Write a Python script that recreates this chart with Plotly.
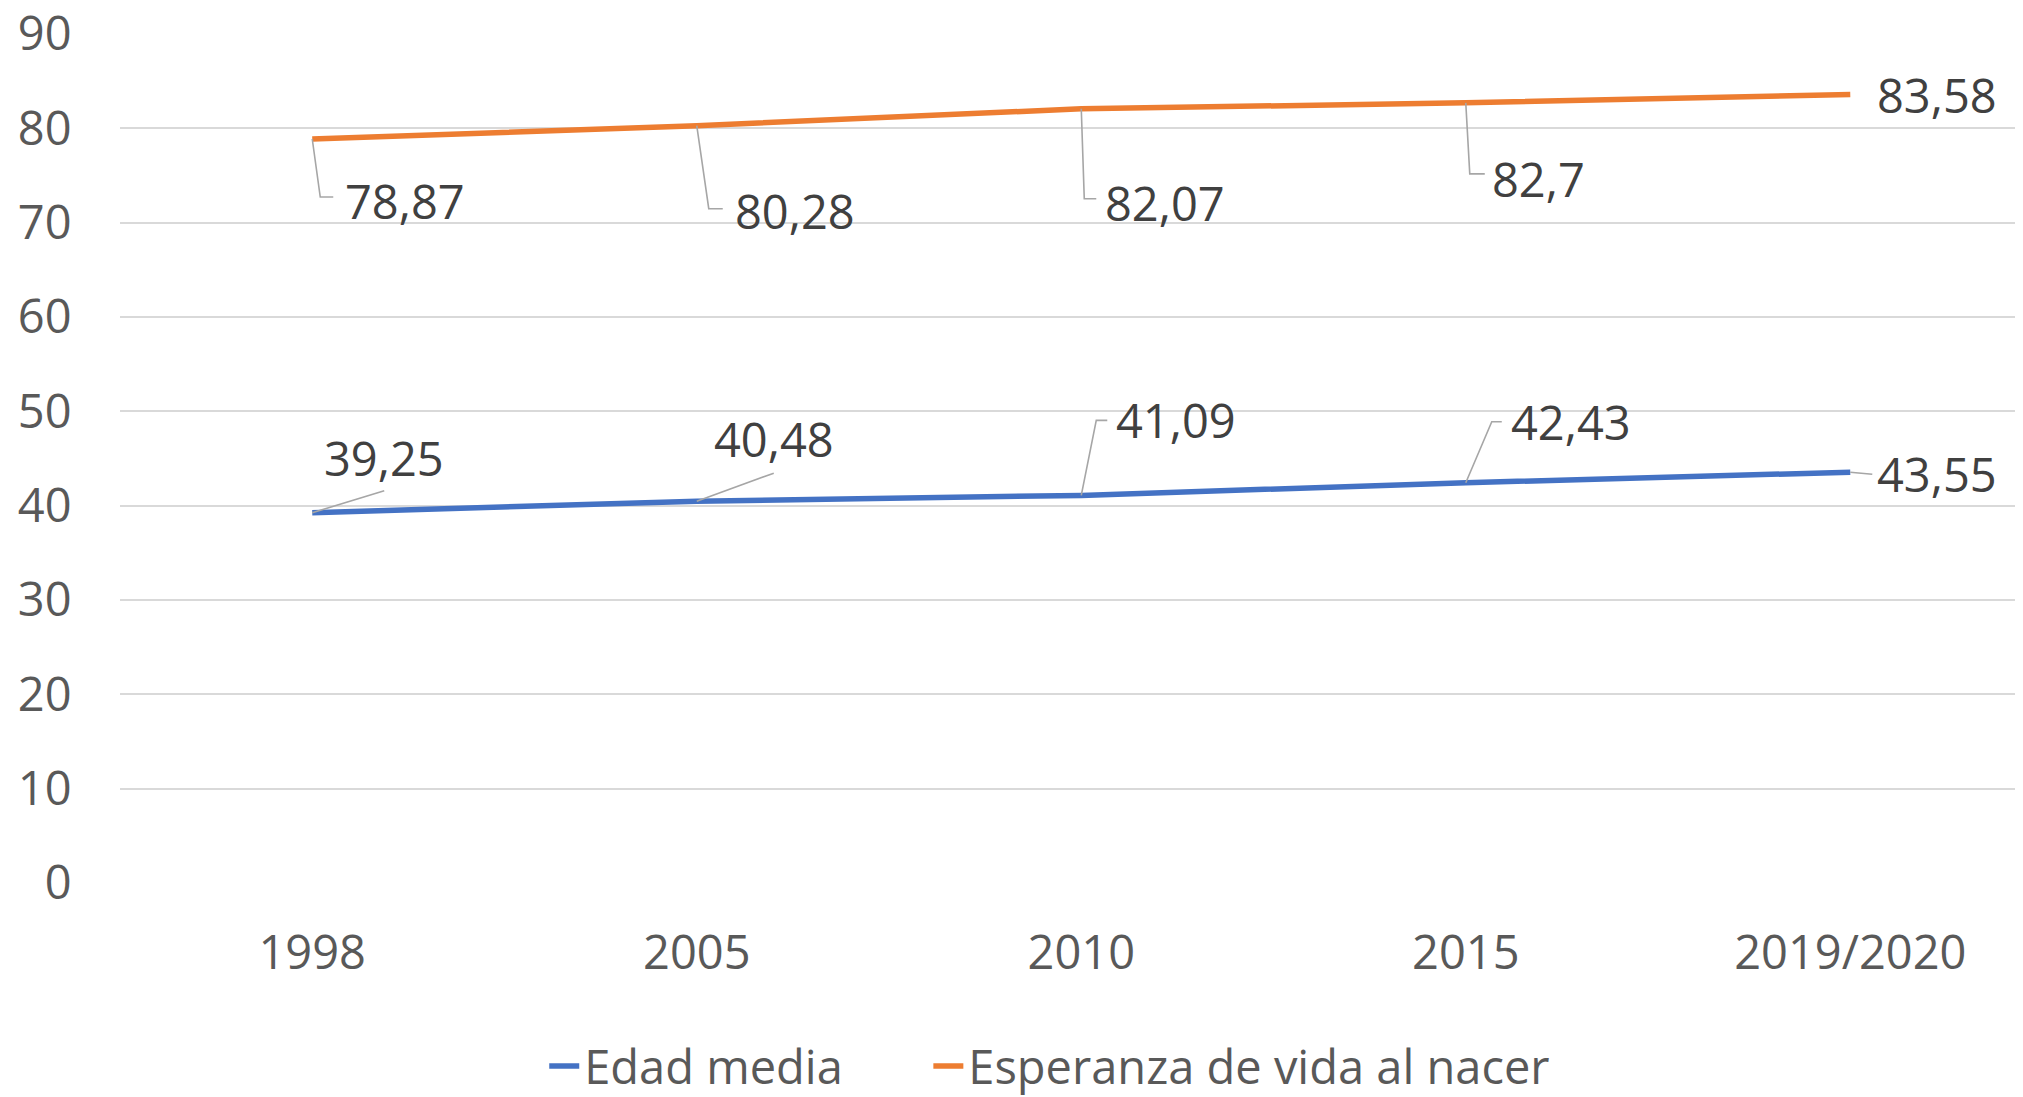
import plotly.graph_objects as go

categories = ["1998", "2005", "2010", "2015", "2019/2020"]
edad_media = [39.25, 40.48, 41.09, 42.43, 43.55]
esperanza = [78.87, 80.28, 82.07, 82.7, 83.58]
y_ticks = [0, 10, 20, 30, 40, 50, 60, 70, 80, 90]

BLUE = "#4472C4"
ORANGE = "#ED7D31"
FONT = "Open Sans"
LABEL_COLOR = "#404040"
TICK_COLOR = "#595959"
LEADER = "#A6A6A6"

# label placement (pixel offsets from the point, screen down positive)
orange_place = [
    (31, 62, "left", [(8, 58), (21, 58)]),
    (36, 85, "left", [(12, 83), (26, 83)]),
    (22, 94, "left", [(3, 90), (15, 90)]),
    (24, 76, "left", [(4, 71), (19, 71)]),
    (25, 0, "left", None),
]
blue_place = [
    (72, -55, "center", [(72, -22)]),
    (77, -62, "center", [(77, -28)]),
    (33, -75, "left", [(15, -75), (26, -75)]),
    (43, -61, "left", [(26, -61), (36, -61)]),
    (25, 2, "left", [(22, 2)]),
]

fig = go.Figure()
fig.add_trace(go.Scatter(x=categories, y=edad_media, mode="lines", name="Edad media",
                         line=dict(color=BLUE, width=5.5), hoverinfo="skip",
                         legend="legend"))
fig.add_trace(go.Scatter(x=categories, y=esperanza, mode="lines", name="Esperanza de vida al nacer",
                         line=dict(color=ORANGE, width=5.5), hoverinfo="skip",
                         legend="legend2"))

annotations = []
shapes = []
for series, places in ((esperanza, orange_place), (edad_media, blue_place)):
    for idx, (val, (dx, dy, anchor, pts)) in enumerate(zip(series, places)):
        annotations.append(dict(
            x=idx, y=val, xref="x", yref="y", text=str(val).replace(".", ","),
            showarrow=False, xanchor=anchor, yanchor="middle",
            xshift=dx, yshift=-dy, font=dict(family=FONT, size=47, color=LABEL_COLOR)))
        if pts:
            path = "M0,0 " + " ".join(f"L{px},{-py}" for px, py in pts)
            shapes.append(dict(type="path", xref="x", yref="y", xsizemode="pixel",
                               ysizemode="pixel", xanchor=idx, yanchor=val, path=path,
                               line=dict(color=LEADER, width=1.6), layer="above"))

legend_style = dict(orientation="h", yanchor="middle", y=-0.216, xanchor="left",
                    font=dict(family=FONT, size=47, color=TICK_COLOR),
                    bgcolor="rgba(0,0,0,0)")

fig.update_layout(
    width=2023, height=1097,
    margin=dict(l=112, r=0, t=26, b=222, autoexpand=False),
    paper_bgcolor="white", plot_bgcolor="white",
    showlegend=True,
    legend=dict(x=0.222, **legend_style),
    legend2=dict(x=0.423, **legend_style),
    annotations=annotations, shapes=shapes,
    xaxis=dict(type="category", range=[-0.5, 4.47], showgrid=False, showline=False,
               zeroline=False, ticks="outside", ticklen=29, tickcolor="rgba(0,0,0,0)",
               automargin=False, ticklabeloverflow="allow",
               tickfont=dict(family=FONT, size=47, color=TICK_COLOR)),
    yaxis=dict(range=[0, 90], tickvals=y_ticks, showgrid=True, gridcolor="#D9D9D9",
               gridwidth=1.8, zeroline=False, showline=False, ticks="outside",
               ticklen=38, tickcolor="rgba(0,0,0,0)", automargin=False,
               ticklabeloverflow="allow",
               tickfont=dict(family=FONT, size=47, color=TICK_COLOR)),
)

fig.write_html("out.html")
